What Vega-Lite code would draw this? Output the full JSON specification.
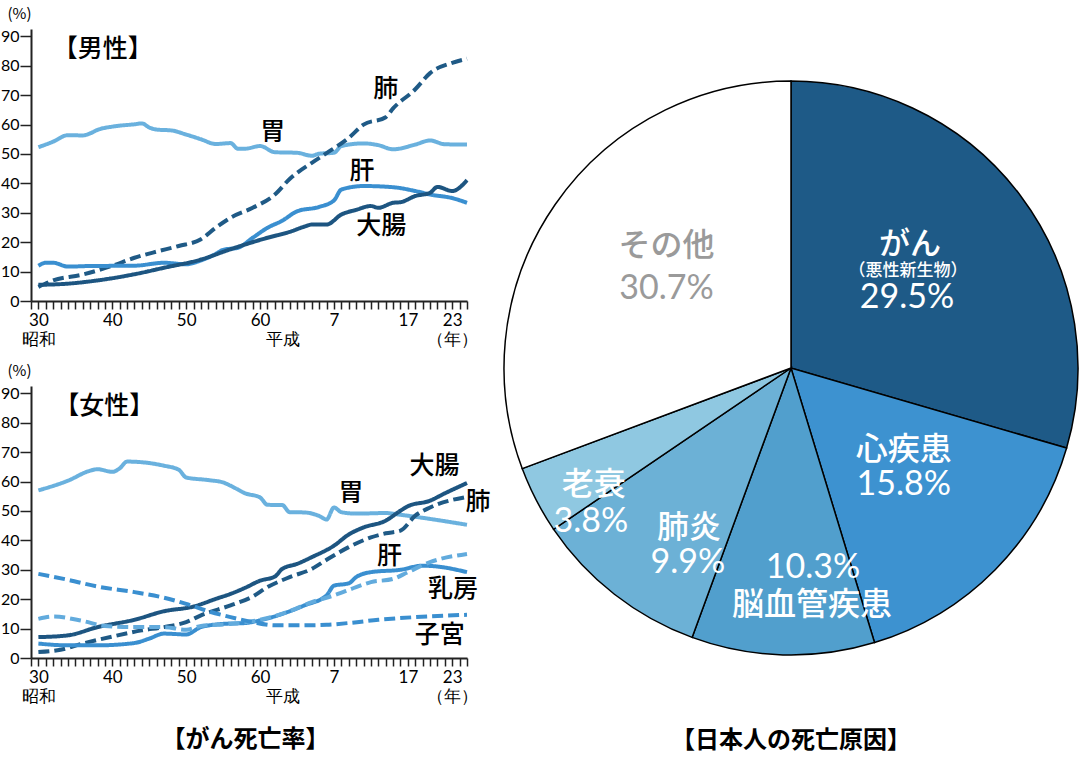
{
  "$schema": "https://vega.github.io/schema/vega-lite/v6.json",
  "padding": {"left": 0, "top": 6, "right": 0, "bottom": 0},
  "background": "white",
  "datasets": {
    "male": [
      {"series": "胃", "year": 1955, "rate": 52.3}, {"series": "胃", "year": 1957, "rate": 54.2}, {"series": "胃", "year": 1959, "rate": 56.4},
      {"series": "胃", "year": 1961, "rate": 56.3}, {"series": "胃", "year": 1962, "rate": 57.0}, {"series": "胃", "year": 1963, "rate": 58.2},
      {"series": "胃", "year": 1965, "rate": 59.3}, {"series": "胃", "year": 1968, "rate": 60.1}, {"series": "胃", "year": 1969, "rate": 60.4},
      {"series": "胃", "year": 1970, "rate": 59.0}, {"series": "胃", "year": 1971, "rate": 58.3}, {"series": "胃", "year": 1973, "rate": 58.0},
      {"series": "胃", "year": 1975, "rate": 56.6}, {"series": "胃", "year": 1977, "rate": 55.0}, {"series": "胃", "year": 1979, "rate": 53.4},
      {"series": "胃", "year": 1981, "rate": 53.7}, {"series": "胃", "year": 1982, "rate": 51.8}, {"series": "胃", "year": 1983, "rate": 51.8},
      {"series": "胃", "year": 1985, "rate": 52.7}, {"series": "胃", "year": 1987, "rate": 50.6}, {"series": "胃", "year": 1990, "rate": 50.4},
      {"series": "胃", "year": 1992, "rate": 49.4}, {"series": "胃", "year": 1993, "rate": 50.1}, {"series": "胃", "year": 1995, "rate": 50.4},
      {"series": "胃", "year": 1996, "rate": 52.7}, {"series": "胃", "year": 1999, "rate": 53.6}, {"series": "胃", "year": 2001, "rate": 53.0},
      {"series": "胃", "year": 2003, "rate": 51.6}, {"series": "胃", "year": 2006, "rate": 53.2}, {"series": "胃", "year": 2008, "rate": 54.6},
      {"series": "胃", "year": 2010, "rate": 53.3}, {"series": "胃", "year": 2013, "rate": 53.2},
      {"series": "肺", "year": 1955, "rate": 4.8}, {"series": "肺", "year": 1957, "rate": 7.0}, {"series": "肺", "year": 1961, "rate": 9.0},
      {"series": "肺", "year": 1965, "rate": 12.0}, {"series": "肺", "year": 1968, "rate": 14.7}, {"series": "肺", "year": 1971, "rate": 16.8},
      {"series": "肺", "year": 1974, "rate": 18.7}, {"series": "肺", "year": 1977, "rate": 21.0}, {"series": "肺", "year": 1979, "rate": 24.9},
      {"series": "肺", "year": 1981, "rate": 28.3}, {"series": "肺", "year": 1984, "rate": 31.7}, {"series": "肺", "year": 1987, "rate": 36.2},
      {"series": "肺", "year": 1989, "rate": 41.5}, {"series": "肺", "year": 1992, "rate": 47.0}, {"series": "肺", "year": 1994, "rate": 50.3},
      {"series": "肺", "year": 1997, "rate": 55.5}, {"series": "肺", "year": 1999, "rate": 60.0}, {"series": "肺", "year": 2002, "rate": 62.5},
      {"series": "肺", "year": 2003, "rate": 65.5}, {"series": "肺", "year": 2006, "rate": 72.0}, {"series": "肺", "year": 2008, "rate": 77.5},
      {"series": "肺", "year": 2011, "rate": 81.0}, {"series": "肺", "year": 2013, "rate": 82.4},
      {"series": "肝", "year": 1955, "rate": 12.0}, {"series": "肝", "year": 1956, "rate": 13.0}, {"series": "肝", "year": 1957, "rate": 13.0},
      {"series": "肝", "year": 1959, "rate": 11.7}, {"series": "肝", "year": 1962, "rate": 11.9}, {"series": "肝", "year": 1968, "rate": 12.0},
      {"series": "肝", "year": 1972, "rate": 13.0}, {"series": "肝", "year": 1975, "rate": 12.5}, {"series": "肝", "year": 1977, "rate": 13.8},
      {"series": "肝", "year": 1979, "rate": 16.0}, {"series": "肝", "year": 1980, "rate": 17.4}, {"series": "肝", "year": 1982, "rate": 18.1},
      {"series": "肝", "year": 1984, "rate": 21.5}, {"series": "肝", "year": 1986, "rate": 24.9}, {"series": "肝", "year": 1988, "rate": 27.3},
      {"series": "肝", "year": 1990, "rate": 30.5}, {"series": "肝", "year": 1993, "rate": 32.0}, {"series": "肝", "year": 1995, "rate": 34.2},
      {"series": "肝", "year": 1996, "rate": 37.9}, {"series": "肝", "year": 1999, "rate": 39.1}, {"series": "肝", "year": 2003, "rate": 38.7},
      {"series": "肝", "year": 2006, "rate": 37.4}, {"series": "肝", "year": 2008, "rate": 36.2}, {"series": "肝", "year": 2011, "rate": 35.0},
      {"series": "肝", "year": 2013, "rate": 33.4},
      {"series": "大腸", "year": 1955, "rate": 5.5}, {"series": "大腸", "year": 1959, "rate": 5.9}, {"series": "大腸", "year": 1963, "rate": 7.0},
      {"series": "大腸", "year": 1968, "rate": 9.1}, {"series": "大腸", "year": 1972, "rate": 11.3}, {"series": "大腸", "year": 1977, "rate": 14.1},
      {"series": "大腸", "year": 1981, "rate": 17.6}, {"series": "大腸", "year": 1986, "rate": 21.5}, {"series": "大腸", "year": 1989, "rate": 23.5},
      {"series": "大腸", "year": 1991, "rate": 25.3}, {"series": "大腸", "year": 1992, "rate": 26.0}, {"series": "大腸", "year": 1994, "rate": 26.0},
      {"series": "大腸", "year": 1996, "rate": 29.4}, {"series": "大腸", "year": 1998, "rate": 31.0}, {"series": "大腸", "year": 2000, "rate": 32.3},
      {"series": "大腸", "year": 2001, "rate": 31.7}, {"series": "大腸", "year": 2003, "rate": 33.4}, {"series": "大腸", "year": 2004, "rate": 33.6},
      {"series": "大腸", "year": 2006, "rate": 35.7}, {"series": "大腸", "year": 2008, "rate": 36.8}, {"series": "大腸", "year": 2009, "rate": 38.8},
      {"series": "大腸", "year": 2011, "rate": 37.4}, {"series": "大腸", "year": 2013, "rate": 41.1}
    ],
    "female": [
      {"series": "胃", "year": 1955, "rate": 57.0}, {"series": "胃", "year": 1959, "rate": 60.3}, {"series": "胃", "year": 1962, "rate": 63.7},
      {"series": "胃", "year": 1963, "rate": 64.2}, {"series": "胃", "year": 1965, "rate": 63.3}, {"series": "胃", "year": 1966, "rate": 64.5},
      {"series": "胃", "year": 1967, "rate": 66.8}, {"series": "胃", "year": 1972, "rate": 65.4}, {"series": "胃", "year": 1974, "rate": 64.0},
      {"series": "胃", "year": 1975, "rate": 61.4}, {"series": "胃", "year": 1978, "rate": 60.5}, {"series": "胃", "year": 1980, "rate": 59.7},
      {"series": "胃", "year": 1981, "rate": 58.6}, {"series": "胃", "year": 1983, "rate": 56.0}, {"series": "胃", "year": 1985, "rate": 54.6},
      {"series": "胃", "year": 1986, "rate": 52.1}, {"series": "胃", "year": 1988, "rate": 52.0}, {"series": "胃", "year": 1989, "rate": 49.6},
      {"series": "胃", "year": 1991, "rate": 49.5}, {"series": "胃", "year": 1993, "rate": 48.3}, {"series": "胃", "year": 1994, "rate": 47.1},
      {"series": "胃", "year": 1995, "rate": 51.2}, {"series": "胃", "year": 1996, "rate": 49.6}, {"series": "胃", "year": 1998, "rate": 49.1},
      {"series": "胃", "year": 2002, "rate": 49.3}, {"series": "胃", "year": 2004, "rate": 48.7}, {"series": "胃", "year": 2008, "rate": 47.3},
      {"series": "胃", "year": 2013, "rate": 45.3},
      {"series": "大腸", "year": 1955, "rate": 7.1}, {"series": "大腸", "year": 1959, "rate": 7.7}, {"series": "大腸", "year": 1963, "rate": 10.5},
      {"series": "大腸", "year": 1968, "rate": 13.0}, {"series": "大腸", "year": 1972, "rate": 15.9}, {"series": "大腸", "year": 1976, "rate": 17.5},
      {"series": "大腸", "year": 1979, "rate": 20.1}, {"series": "大腸", "year": 1981, "rate": 21.8}, {"series": "大腸", "year": 1983, "rate": 23.9},
      {"series": "大腸", "year": 1985, "rate": 26.3}, {"series": "大腸", "year": 1987, "rate": 27.7}, {"series": "大腸", "year": 1988, "rate": 30.3},
      {"series": "大腸", "year": 1990, "rate": 32.0}, {"series": "大腸", "year": 1992, "rate": 34.3}, {"series": "大腸", "year": 1995, "rate": 38.2},
      {"series": "大腸", "year": 1997, "rate": 42.0}, {"series": "大腸", "year": 1999, "rate": 44.4}, {"series": "大腸", "year": 2002, "rate": 46.7},
      {"series": "大腸", "year": 2004, "rate": 50.1}, {"series": "大腸", "year": 2005, "rate": 51.6}, {"series": "大腸", "year": 2008, "rate": 53.5},
      {"series": "大腸", "year": 2010, "rate": 56.0}, {"series": "大腸", "year": 2013, "rate": 59.5},
      {"series": "肺", "year": 1955, "rate": 2.0}, {"series": "肺", "year": 1958, "rate": 2.8}, {"series": "肺", "year": 1961, "rate": 4.9},
      {"series": "肺", "year": 1965, "rate": 7.3}, {"series": "肺", "year": 1969, "rate": 9.4}, {"series": "肺", "year": 1972, "rate": 10.5},
      {"series": "肺", "year": 1975, "rate": 12.2}, {"series": "肺", "year": 1977, "rate": 14.5}, {"series": "肺", "year": 1981, "rate": 17.9},
      {"series": "肺", "year": 1984, "rate": 20.9}, {"series": "肺", "year": 1986, "rate": 24.1}, {"series": "肺", "year": 1989, "rate": 27.5},
      {"series": "肺", "year": 1992, "rate": 30.3}, {"series": "肺", "year": 1994, "rate": 33.4}, {"series": "肺", "year": 1997, "rate": 37.7},
      {"series": "肺", "year": 2000, "rate": 41.0}, {"series": "肺", "year": 2002, "rate": 42.4}, {"series": "肺", "year": 2004, "rate": 43.3},
      {"series": "肺", "year": 2006, "rate": 48.4}, {"series": "肺", "year": 2008, "rate": 51.2}, {"series": "肺", "year": 2013, "rate": 54.8},
      {"series": "肝", "year": 1955, "rate": 4.9}, {"series": "肝", "year": 1959, "rate": 4.3}, {"series": "肝", "year": 1963, "rate": 4.3},
      {"series": "肝", "year": 1968, "rate": 5.1}, {"series": "肝", "year": 1970, "rate": 6.6}, {"series": "肝", "year": 1972, "rate": 8.3},
      {"series": "肝", "year": 1975, "rate": 8.0}, {"series": "肝", "year": 1977, "rate": 10.5}, {"series": "肝", "year": 1980, "rate": 11.6},
      {"series": "肝", "year": 1983, "rate": 11.9}, {"series": "肝", "year": 1985, "rate": 12.8}, {"series": "肝", "year": 1988, "rate": 15.0},
      {"series": "肝", "year": 1991, "rate": 17.9}, {"series": "肝", "year": 1994, "rate": 21.3}, {"series": "肝", "year": 1995, "rate": 24.6},
      {"series": "肝", "year": 1997, "rate": 25.4}, {"series": "肝", "year": 1998, "rate": 27.5}, {"series": "肝", "year": 2000, "rate": 29.2},
      {"series": "肝", "year": 2004, "rate": 30.0}, {"series": "肝", "year": 2007, "rate": 31.4}, {"series": "肝", "year": 2009, "rate": 31.1},
      {"series": "肝", "year": 2013, "rate": 29.2},
      {"series": "乳房", "year": 1955, "rate": 13.3}, {"series": "乳房", "year": 1957, "rate": 14.1}, {"series": "乳房", "year": 1961, "rate": 12.6},
      {"series": "乳房", "year": 1964, "rate": 10.9}, {"series": "乳房", "year": 1968, "rate": 10.5}, {"series": "乳房", "year": 1972, "rate": 10.5},
      {"series": "乳房", "year": 1975, "rate": 9.6}, {"series": "乳房", "year": 1977, "rate": 10.9}, {"series": "乳房", "year": 1981, "rate": 11.6},
      {"series": "乳房", "year": 1985, "rate": 13.0}, {"series": "乳房", "year": 1989, "rate": 15.9}, {"series": "乳房", "year": 1992, "rate": 19.0},
      {"series": "乳房", "year": 1995, "rate": 21.3}, {"series": "乳房", "year": 1998, "rate": 24.1}, {"series": "乳房", "year": 2000, "rate": 25.8},
      {"series": "乳房", "year": 2003, "rate": 26.9}, {"series": "乳房", "year": 2005, "rate": 29.2}, {"series": "乳房", "year": 2008, "rate": 32.6},
      {"series": "乳房", "year": 2013, "rate": 35.4},
      {"series": "子宮", "year": 1955, "rate": 28.6}, {"series": "子宮", "year": 1959, "rate": 26.6}, {"series": "子宮", "year": 1963, "rate": 24.3},
      {"series": "子宮", "year": 1968, "rate": 22.4}, {"series": "子宮", "year": 1972, "rate": 20.5}, {"series": "子宮", "year": 1975, "rate": 18.4},
      {"series": "子宮", "year": 1978, "rate": 15.9}, {"series": "子宮", "year": 1981, "rate": 13.9}, {"series": "子宮", "year": 1984, "rate": 12.2},
      {"series": "子宮", "year": 1987, "rate": 11.1}, {"series": "子宮", "year": 1990, "rate": 11.1}, {"series": "子宮", "year": 1994, "rate": 11.3},
      {"series": "子宮", "year": 1997, "rate": 11.9}, {"series": "子宮", "year": 2001, "rate": 13.0}, {"series": "子宮", "year": 2006, "rate": 13.9},
      {"series": "子宮", "year": 2013, "rate": 14.7}
    ],
    "maleLabels": [
      {"label": "【男性】", "year": 1963.7, "rate": 85.6},
      {"label": "肺", "year": 2002.0, "rate": 72.1},
      {"label": "胃", "year": 1986.7, "rate": 57.4},
      {"label": "肝", "year": 1998.8, "rate": 44.2},
      {"label": "大腸", "year": 2001.4, "rate": 25.5}
    ],
    "femaleLabels": [
      {"label": "【女性】", "year": 1963.9, "rate": 85.7},
      {"label": "大腸", "year": 2008.6, "rate": 65.4},
      {"label": "肺", "year": 2014.5, "rate": 53.0},
      {"label": "胃", "year": 1997.3, "rate": 56.0},
      {"label": "肝", "year": 2002.5, "rate": 34.8},
      {"label": "乳房", "year": 2011.1, "rate": 23.4},
      {"label": "子宮", "year": 2009.3, "rate": 7.7}
    ],
    "causes": [
      {"cause": "がん", "note": "（悪性新生物）", "share": 0.295, "rank": 1},
      {"cause": "心疾患", "note": "", "share": 0.158, "rank": 2},
      {"cause": "脳血管疾患", "note": "", "share": 0.103, "rank": 3},
      {"cause": "肺炎", "note": "", "share": 0.099, "rank": 4},
      {"cause": "老衰", "note": "", "share": 0.038, "rank": 5},
      {"cause": "その他", "note": "", "share": 0.307, "rank": 6}
    ]
  },
  "hconcat": [
    {
      "vconcat": [
        {
          "width": 436,
          "height": 272,
          "encoding": {
            "x": {
              "field": "year", "type": "quantitative",
              "scale": {"domain": [1954, 2013], "nice": false, "zero": false},
              "axis": {
                "title": null,
                "values": [1954,1955,1956,1957,1958,1959,1960,1961,1962,1963,1964,1965,1966,1967,1968,1969,1970,1971,1972,1973,1974,1975,1976,1977,1978,1979,1980,1981,1982,1983,1984,1985,1986,1987,1988,1989,1990,1991,1992,1993,1994,1995,1996,1997,1998,1999,2000,2001,2002,2003,2004,2005,2006,2007,2008,2009,2010,2011,2012,2013],
                "labelExpr": "datum.value == 1955 ? ['30', '昭和'] : datum.value == 1965 ? '40' : datum.value == 1975 ? '50' : datum.value == 1985 ? '60' : datum.value == 1988 ? ['', '平成'] : datum.value == 1995 ? '7' : datum.value == 2005 ? '17' : datum.value == 2011 ? ['23', '（年）'] : ''",
                "tickSize": 8,
                "labelPadding": 3,
                "labelFontSize": 17
              }
            },
            "y": {
              "field": "rate", "type": "quantitative",
              "scale": {"domain": [0, 92.5], "nice": false},
              "axis": {
                "values": [0, 10, 20, 30, 40, 50, 60, 70, 80, 90],
                "title": "(%)",
                "titleAngle": 0, "titleX": -12, "titleY": -16,
                "titleAlign": "center", "titleBaseline": "middle",
                "tickSize": 11, "labelPadding": 1
              }
            }
          },
          "layer": [
            {
              "data": {"name": "male"},
              "mark": {"type": "line", "strokeWidth": 4, "interpolate": "monotone"},
              "encoding": {
                "color": {
                  "field": "series", "type": "nominal", "legend": null,
                  "scale": {"domain": ["胃", "肺", "肝", "大腸"], "range": ["#6ab1de", "#1f5a86", "#3a8fd0", "#1d5581"]}
                },
                "strokeDash": {
                  "field": "series", "type": "nominal", "legend": null,
                  "scale": {"domain": ["胃", "肺", "肝", "大腸"], "range": [[1, 0], [11, 5], [1, 0], [1, 0]]}
                }
              }
            },
            {
              "data": {"name": "maleLabels"},
              "mark": {"type": "text", "font": "Noto Sans CJK JP", "fontSize": 25, "fontWeight": 500, "color": "black", "align": "center", "baseline": "middle"},
              "encoding": {"text": {"field": "label"}}
            }
          ]
        },
        {
          "width": 436,
          "height": 272,
          "encoding": {
            "x": {
              "field": "year", "type": "quantitative",
              "scale": {"domain": [1954, 2013], "nice": false, "zero": false},
              "axis": {
                "title": null,
                "values": [1954,1955,1956,1957,1958,1959,1960,1961,1962,1963,1964,1965,1966,1967,1968,1969,1970,1971,1972,1973,1974,1975,1976,1977,1978,1979,1980,1981,1982,1983,1984,1985,1986,1987,1988,1989,1990,1991,1992,1993,1994,1995,1996,1997,1998,1999,2000,2001,2002,2003,2004,2005,2006,2007,2008,2009,2010,2011,2012,2013],
                "labelExpr": "datum.value == 1955 ? ['30', '昭和'] : datum.value == 1965 ? '40' : datum.value == 1975 ? '50' : datum.value == 1985 ? '60' : datum.value == 1988 ? ['', '平成'] : datum.value == 1995 ? '7' : datum.value == 2005 ? '17' : datum.value == 2011 ? ['23', '（年）'] : ''",
                "tickSize": 8,
                "labelPadding": 3,
                "labelFontSize": 17
              }
            },
            "y": {
              "field": "rate", "type": "quantitative",
              "scale": {"domain": [0, 92.5], "nice": false},
              "axis": {
                "values": [0, 10, 20, 30, 40, 50, 60, 70, 80, 90],
                "title": "(%)",
                "titleAngle": 0, "titleX": -12, "titleY": -16,
                "titleAlign": "center", "titleBaseline": "middle",
                "tickSize": 11, "labelPadding": 1
              }
            }
          },
          "layer": [
            {
              "data": {"name": "female"},
              "mark": {"type": "line", "strokeWidth": 4, "interpolate": "monotone"},
              "encoding": {
                "color": {
                  "field": "series", "type": "nominal", "legend": null,
                  "scale": {"domain": ["胃", "大腸", "肺", "肝", "乳房", "子宮"], "range": ["#6ab1de", "#1d5581", "#1f5a86", "#3a8fd0", "#62abdd", "#3a8fd0"]}
                },
                "strokeDash": {
                  "field": "series", "type": "nominal", "legend": null,
                  "scale": {"domain": ["胃", "大腸", "肺", "肝", "乳房", "子宮"], "range": [[1, 0], [1, 0], [11, 5], [1, 0], [11, 5], [11, 5]]}
                }
              }
            },
            {
              "data": {"name": "femaleLabels"},
              "mark": {"type": "text", "font": "Noto Sans CJK JP", "fontSize": 25, "fontWeight": 500, "color": "black", "align": "center", "baseline": "middle"},
              "encoding": {"text": {"field": "label"}}
            }
          ]
        }
      ],
      "spacing": 85,
      "bounds": "flush",
      "resolve": {"scale": {"color": "independent", "strokeDash": "independent"}},
      "title": {"text": "【がん死亡率】", "orient": "bottom", "anchor": "middle", "offset": 24, "font": "Noto Sans CJK JP", "fontSize": 24, "fontWeight": "bold", "color": "black"}
    },
    {
      "width": 574,
      "height": 678,
      "data": {"name": "causes"},
      "title": {"text": "【日本人の死亡原因】", "orient": "bottom", "anchor": "middle", "frame": "group", "offset": 22, "font": "Noto Sans CJK JP", "fontSize": 24, "fontWeight": "bold", "color": "black"},
      "encoding": {
        "theta": {"field": "share", "type": "quantitative", "stack": true},
        "order": {"field": "rank", "type": "quantitative"}
      },
      "layer": [
        {
          "mark": {"type": "arc", "outerRadius": 287, "stroke": "black", "strokeWidth": 1.5},
          "encoding": {
            "color": {
              "field": "cause", "type": "nominal", "legend": null,
              "scale": {"domain": ["がん", "心疾患", "脳血管疾患", "肺炎", "老衰", "その他"], "range": ["#1e5a87", "#3d92d0", "#519fcd", "#6cb1d6", "#8fc8e1", "#ffffff"]}
            }
          }
        },
        {
          "mark": {"type": "text", "radius": 150, "dx": -1, "dy": -33, "font": "Noto Sans CJK JP", "fontSize": 31, "fontWeight": 500, "fill": "white"},
          "encoding": {"text": {"condition": {"test": "datum.cause === 'がん'", "field": "cause"}, "value": ""}}
        },
        {
          "mark": {"type": "text", "radius": 150, "dx": -3, "dy": -7, "font": "Noto Sans CJK JP", "fontSize": 17, "fontWeight": 500, "fill": "white"},
          "encoding": {"text": {"condition": {"test": "datum.cause === 'がん'", "field": "note"}, "value": ""}}
        },
        {
          "mark": {"type": "text", "radius": 150, "dx": -4, "dy": 20, "font": "Lato", "fontSize": 34, "fill": "white"},
          "encoding": {"text": {"condition": {"test": "datum.cause === 'がん'", "field": "share", "format": ".1%"}, "value": ""}}
        },
        {
          "mark": {"type": "text", "radius": 150, "dx": 6, "dy": -23, "font": "Noto Sans CJK JP", "fontSize": 32, "fontWeight": 500, "fill": "white"},
          "encoding": {"text": {"condition": {"test": "datum.cause === '心疾患'", "field": "cause"}, "value": ""}}
        },
        {
          "mark": {"type": "text", "radius": 150, "dx": 6, "dy": 12, "font": "Lato", "fontSize": 34, "fill": "white"},
          "encoding": {"text": {"condition": {"test": "datum.cause === '心疾患'", "field": "share", "format": ".1%"}, "value": ""}}
        },
        {
          "mark": {"type": "text", "radius": 210, "dx": 28, "dy": -10, "font": "Lato", "fontSize": 34, "fill": "white"},
          "encoding": {"text": {"condition": {"test": "datum.cause === '脳血管疾患'", "field": "share", "format": ".1%"}, "value": ""}}
        },
        {
          "mark": {"type": "text", "radius": 210, "dx": 27, "dy": 27, "font": "Noto Sans CJK JP", "fontSize": 32, "fontWeight": 500, "fill": "white"},
          "encoding": {"text": {"condition": {"test": "datum.cause === '脳血管疾患'", "field": "cause"}, "value": ""}}
        },
        {
          "mark": {"type": "text", "radius": 200, "dx": 21, "dy": 2, "font": "Noto Sans CJK JP", "fontSize": 32, "fontWeight": 500, "fill": "white"},
          "encoding": {"text": {"condition": {"test": "datum.cause === '肺炎'", "field": "cause"}, "value": ""}}
        },
        {
          "mark": {"type": "text", "radius": 200, "dx": 20, "dy": 37, "font": "Lato", "fontSize": 34, "fill": "white"},
          "encoding": {"text": {"condition": {"test": "datum.cause === '肺炎'", "field": "share", "format": ".1%"}, "value": ""}}
        },
        {
          "mark": {"type": "text", "radius": 240, "dx": 16, "dy": 7, "font": "Noto Sans CJK JP", "fontSize": 32, "fontWeight": 500, "fill": "white"},
          "encoding": {"text": {"condition": {"test": "datum.cause === '老衰'", "field": "cause"}, "value": ""}}
        },
        {
          "mark": {"type": "text", "radius": 240, "dx": 13, "dy": 44, "font": "Lato", "fontSize": 34, "fill": "white"},
          "encoding": {"text": {"condition": {"test": "datum.cause === '老衰'", "field": "share", "format": ".1%"}, "value": ""}}
        },
        {
          "mark": {"type": "text", "radius": 160, "dx": 7, "dy": -31, "font": "Noto Sans CJK JP", "fontSize": 32, "fontWeight": 500, "fill": "#9a9a9a"},
          "encoding": {"text": {"condition": {"test": "datum.cause === 'その他'", "field": "cause"}, "value": ""}}
        },
        {
          "mark": {"type": "text", "radius": 160, "dx": 7, "dy": 12, "font": "Lato", "fontSize": 34, "fill": "#9a9a9a"},
          "encoding": {"text": {"condition": {"test": "datum.cause === 'その他'", "field": "share", "format": ".1%"}, "value": ""}}
        }
      ]
    }
  ],
  "spacing": 10,
  "resolve": {"scale": {"color": "independent", "strokeDash": "independent"}},
  "config": {
    "view": {"stroke": null},
    "text": {"align": "center", "baseline": "middle"},
    "axis": {
      "grid": false,
      "domainColor": "#222222",
      "domainWidth": 2,
      "tickColor": "#222222",
      "tickWidth": 1.5,
      "labelColor": "black",
      "labelFont": "Lato",
      "labelFontSize": 16,
      "labelLineHeight": 19,
      "labelOverlap": false,
      "labelFlush": false,
      "labelBound": false,
      "titleFont": "Noto Sans CJK JP",
      "titleFontSize": 15,
      "titleFontWeight": "normal",
      "titleColor": "black"
    }
  }
}
